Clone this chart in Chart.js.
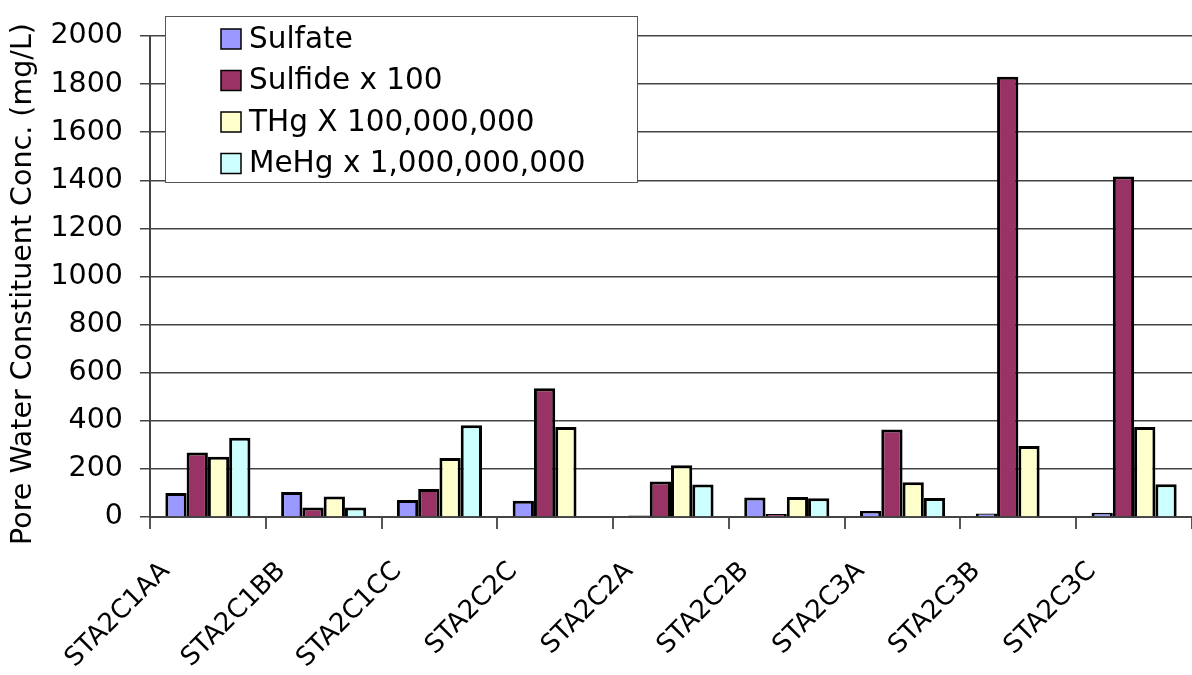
<!DOCTYPE html>
<html>
<head>
<meta charset="utf-8">
<script src="https://cdn.jsdelivr.net/npm/chart.js@4.4.1/dist/chart.umd.min.js"></script>
<style>
  html, body { margin: 0; padding: 0; background: #fff; }
  #wrap { width: 1192px; height: 675px; }
</style>
</head>
<body>
<div id="wrap"><canvas id="pore-water" width="1192" height="675"></canvas></div>
<script>
const stations = ["STA2C1AA", "STA2C1BB", "STA2C1CC", "STA2C2C", "STA2C2A", "STA2C2B", "STA2C3A", "STA2C3B", "STA2C3C"];
const sulfate = [100, 104, 71, 68, 6, 81, 25, 15, 18];
const sulfideX100 = [268, 40, 116, 535, 148, 12, 364, 1831, 1416];
const thgX1e8 = [251, 85, 245, 374, 215, 83, 145, 295, 374];
const mehgX1e9 = [330, 39, 381, null, 135, 78, 79, null, 136];
const seriesNames = ["Sulfate", "Sulfide x 100", "THg X 100,000,000", "MeHg x 1,000,000,000"];
const seriesColors = ["#9999FF", "#993366", "#FFFFCC", "#CCFFFF"];
const yTicks = [0, 200, 400, 600, 800, 1000, 1200, 1400, 1600, 1800, 2000];
const yTitle = "Pore Water Constituent Conc. (mg/L)";

const FONT = "'DejaVu Sans', Verdana, sans-serif";

// Legend sits inside the plot area, boxed, like the original spreadsheet chart.
// The y title is drawn here too so it can sit slightly below the plot's centre.
const boxedLegend = {
  id: "boxedLegend",
  afterDraw(chart) {
    const ctx = chart.ctx;
    ctx.save();
    ctx.fillStyle = "#fff";
    ctx.fillRect(165, 16, 472, 166);
    ctx.strokeStyle = "#555";
    ctx.lineWidth = 1;
    ctx.strokeRect(165.5, 16.5, 472, 166);
    ctx.font = "29.5px " + FONT;
    ctx.textBaseline = "middle";
    seriesNames.forEach((name, i) => {
      const cy = 39 + i * 41.5;
      ctx.fillStyle = seriesColors[i];
      ctx.fillRect(221, cy - 10, 20, 20);
      ctx.strokeStyle = "#000";
      ctx.lineWidth = 1.5;
      ctx.strokeRect(221, cy - 10, 20, 20);
      ctx.fillStyle = "#000";
      ctx.fillText(name, 249, cy + 1);
    });

    ctx.translate(24, 284);
    ctx.rotate(-Math.PI / 2);
    ctx.textAlign = "center";
    ctx.font = "28.5px " + FONT;
    ctx.fillText(yTitle, 0, 0);
    ctx.restore();
  }
};

const values = [sulfate, sulfideX100, thgX1e8, mehgX1e9];

new Chart(document.getElementById("pore-water"), {
  type: "bar",
  data: {
    labels: stations,
    datasets: values.map((data, i) => ({
      label: seriesNames[i],
      data,
      backgroundColor: seriesColors[i],
      borderColor: "#000",
      borderWidth: 3,
      categoryPercentage: 0.735,
      barPercentage: 1.0
    }))
  },
  options: {
    responsive: false,
    animation: false,
    layout: { padding: { top: 36, right: 0, left: 0, bottom: 0 } },
    plugins: {
      legend: { display: false },
      tooltip: { enabled: false }
    },
    scales: {
      x: {
        afterFit: (scale) => { scale.height = 158; },
        grid: {
          offset: true,
          drawOnChartArea: false,
          tickLength: 12,
          color: "#555",
          lineWidth: 2
        },
        border: { color: "#444", width: 2 },
        ticks: {
          color: "#000",
          font: { family: FONT, size: 26 },
          minRotation: 45,
          maxRotation: 45,
          padding: 27,
          labelOffset: -42
        }
      },
      y: {
        min: 0,
        max: 2000,
        afterFit: (scale) => { scale.width = 150; },
        afterBuildTicks: (scale) => {
          scale.ticks = yTicks.map((value) => ({ value }));
        },
        grid: {
          color: "#444",
          lineWidth: 1.5,
          tickLength: 10
        },
        border: { color: "#444", width: 2 },
        ticks: {
          color: "#000",
          font: { family: FONT, size: 28.5 },
          padding: 17,
          callback: (value) => String(value)
        }
      }
    }
  },
  plugins: [boxedLegend]
});
</script>
</body>
</html>
